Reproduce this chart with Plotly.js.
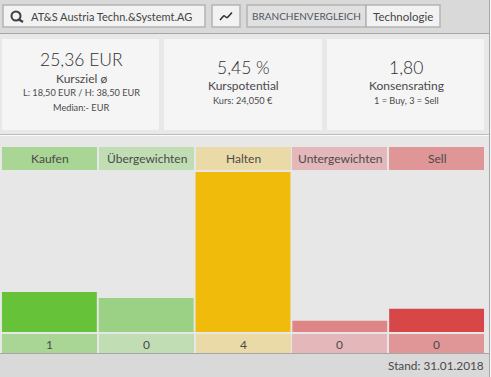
<!DOCTYPE html>
<html><head><meta charset="utf-8">
<script src="https://cdn.plot.ly/plotly-3.0.1.min.js"></script>
<style>html,body{margin:0;padding:0;background:#fff;overflow:hidden}#c{width:491px;height:377px}</style>
</head><body><div id="c"></div>
<script>
const categories = ['Kaufen','Übergewichten','Halten','Untergewichten','Sell'];
const barValues = [1, 0.85, 4, 0.28, 0.58];
const countLabels = ['1','0','4','0','0'];
const barColors = ['#66c339','#9ad184','#f0bb0a','#de8585','#d84748'];
const stripColors = ['#a9d694','#c1ddb4','#e9daa8','#e4b7ba','#e09697'];
const stand = 'Stand: 31.01.2018';

const W=491,H=377,L=1,R=485,T=172,B=332;
const px=x=>(x-L)/(R-L), py=y=>(B-y)/(B-T);
const FONT='Lato, sans-serif', INK='#4a4a4a';
const shapes=[], annotations=[];
function rect(x0,y0,x1,y1,fill,line,lw){shapes.push({type:'rect',xref:'paper',yref:'paper',layer:'below',
  x0:px(x0),x1:px(x1),y0:py(y1),y1:py(y0),fillcolor:fill,line:{color:line||fill,width:line?(lw||2):0}});}
function hline(y0,y1,x0,x1,c){rect(x0,y0,x1,y1,c);}
function text(t,x,y,size,color,anchor,weight){annotations.push({text:t,xref:'paper',yref:'paper',x:px(x),y:py(y),
  xanchor:anchor||'center',yanchor:'middle',showarrow:false,font:{family:FONT,size:size,color:color||INK,weight:weight||400},borderpad:0,borderwidth:0});}

// page regions
rect(0,0,W,33,'#d9d9d9');
rect(0,33,W,134,'#e8e8e8');
rect(0,136,W,353,'#e7e7e7');
rect(0,353,W,H,'#d9d9d9');
hline(33,34,0,489,'#a6a6a6');
hline(134,135,0,489,'#bcbcbc');
hline(135,136,0,489,'#fafafa');
hline(353,354,0,489,'#a6a6a6');
rect(489,0,490,H,'#a8a8a8');
rect(490,0,W,H,'#f4f4f4');

// toolbar
rect(3,5,205,27,'#f2f2f2','#b4b4b4',1.5);
rect(212,5,240,27,'#f2f2f2','#b4b4b4',1.5);
rect(247,5,366,27,'#e0e0e0','#b4b4b4',1.5);
rect(366,5,440,27,'#f2f2f2','#b4b4b4',1.5);
shapes.push({type:'circle',xref:'paper',yref:'paper',x0:px(11.5),x1:px(20.5),y0:py(20.5),y1:py(11.5),line:{color:'#3f3f3f',width:2},fillcolor:'rgba(0,0,0,0)'});
shapes.push({type:'line',xref:'paper',yref:'paper',x0:px(19),x1:px(23),y0:py(19.5),y1:py(22),line:{color:'#3f3f3f',width:2.2}});
[[220,20,224,15.5],[224,15.5,227,18],[227,18,232,12.5]].forEach(s=>shapes.push({type:'line',xref:'paper',yref:'paper',
  x0:px(s[0]),x1:px(s[2]),y0:py(s[1]),y1:py(s[3]),line:{color:'#333',width:1.6}}));
text('AT&S Austria Techn.&Systemt.AG',31,16.5,11,'#444','left');
text('BRANCHENVERGLEICH',306.5,16,10,'#4d5560');
text('Technologie',403,16.5,11.5,'#444');

// cards
rect(2,39,159,130,'#f5f5f5');
rect(164,39,322,130,'#f5f5f5');
rect(327,39,484,130,'#f5f5f5');
text('25,36 EUR',81,59.5,17.5,'#2e2e2e','center',300);
text('Kursziel ø',81,78,12);
text('L: 18,50 EUR / H: 38,50 EUR',81,92.5,9.2);
text('Median:- EUR',81,107.5,9.2);
text('5,45 %',243,67,17.5,'#2e2e2e','center',300);
text('Kurspotential',243,85,12);
text('Kurs: 24,050 €',243,100,9.2);
text('1,80',406,67,17.5,'#2e2e2e','center',300);
text('Konsensrating',406,85,12);
text('1 = Buy, 3 = Sell',406,100,9.2);

// header and count strips
const cx=[49.5,146.5,243,339.5,436.5];
const lefts=[2,99,196,292,389], rights=[97,194,291,387,484];
categories.forEach((c,i)=>{
  rect(lefts[i],147,rights[i],170,stripColors[i]);
  rect(lefts[i],334,rights[i],353,stripColors[i]);
  text(c,cx[i],158,12);
  text(countLabels[i],cx[i],344,12);
});
text(stand,484,365.5,11.8,INK,'right');

Plotly.newPlot('c',[{type:'bar',x:categories,y:barValues,marker:{color:barColors,line:{width:0}},
  hoverinfo:'skip',cliponaxis:false}],{
  width:W,height:H,paper_bgcolor:'#e7e7e7',plot_bgcolor:'rgba(0,0,0,0)',showlegend:false,
  margin:{l:L,r:W-R,t:T,b:H-B,pad:0},bargap:0.02,
  xaxis:{type:'category',categoryorder:'array',categoryarray:categories,visible:false,fixedrange:true},
  yaxis:{range:[0,4],visible:false,fixedrange:true},
  shapes,annotations
},{displayModeBar:false,staticPlot:true});
</script></body></html>
